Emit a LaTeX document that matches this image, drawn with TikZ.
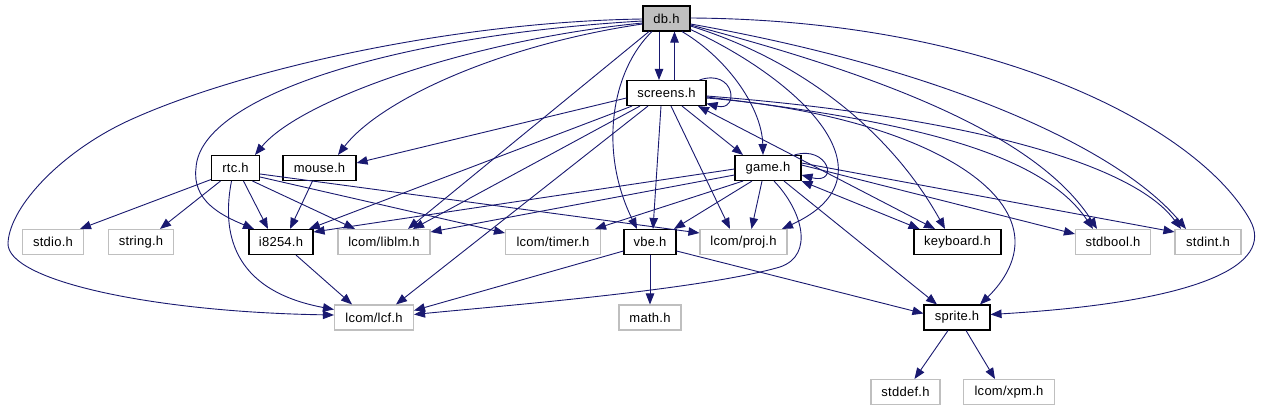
\documentclass[tikz,border=0pt]{standalone}
\usepackage{fontspec}
\setmainfont[LetterSpace=2]{Liberation Sans}
\usetikzlibrary{arrows.meta}
\definecolor{kante}{RGB}{25,25,112}
\definecolor{grau}{RGB}{191,191,191}

\begin{document}
\begin{tikzpicture}[x=1pt, y=1pt,
			>={Triangle[length=11pt,width=8.5pt]},   %Voreinstellung für Pfeilspitzen
			datei/.style={draw=black, line width=1.1pt, fill=white, minimum height=25pt, inner xsep=0pt, inner ysep=0pt, font=\fontsize{13}{15}\selectfont},
			sysdatei/.style={datei, draw=grau},
			wurzel/.style={datei, fill=grau},
			inc/.style={->, draw=kante, line width=0.9pt}]
			%Bildbereich
			\fill[white] (0,0) rectangle (1262,-411);
			\useasboundingbox (0,0) rectangle (1262,-411);
			% Knoten zeichnen
			\node[wurzel, minimum width=47pt] (db) at (666.5,-18.5) {db.h};
			\node[datei, minimum width=79pt] (screens) at (666.5,-93) {screens.h};
			\node[datei, minimum width=48pt] (rtc) at (235.5,-168) {rtc.h};
			\node[datei, minimum width=73pt] (mouse) at (319.5,-168) {mouse.h};
			\node[datei, minimum width=66pt] (game) at (768,-168) {game.h};
			\node[sysdatei, minimum width=61pt] (stdio) at (53,-242) {stdio.h};
			\node[sysdatei, minimum width=65pt] (string) at (141,-242) {string.h};
			\node[datei, minimum width=64pt] (i8254) at (281,-242) {i8254.h};
			\node[sysdatei, minimum width=92pt] (liblm) at (384,-242) {lcom/liblm.h};
			\node[sysdatei, minimum width=95pt] (timer) at (553,-242) {lcom/timer.h};
			\node[datei, minimum width=52pt] (vbe) at (650,-242) {vbe.h};
			\node[sysdatei, minimum width=87pt] (proj) at (743.5,-242) {lcom/proj.h};
			\node[datei, minimum width=87pt] (keyboard) at (957.5,-242) {keyboard.h};
			\node[sysdatei, minimum width=75pt] (stdbool) at (1113,-242) {stdbool.h};
			\node[sysdatei, minimum width=66pt] (stdint) at (1208,-242) {stdint.h};
			\node[sysdatei, minimum width=79pt] (lcf) at (374,-317.5) {lcom/lcf.h};
			\node[sysdatei, minimum width=62pt] (math) at (650,-317.5) {math.h};
			\node[datei, minimum width=66pt] (sprite) at (957,-317.5) {sprite.h};
			\node[sysdatei, minimum width=69pt] (stddef) at (905.5,-392) {stddef.h};
			\node[sysdatei, minimum width=91pt] (xpm) at (1009,-392) {lcom/xpm.h};
			% Kanten von db.h
			\draw[inc] ([xshift=-7.5]db.south) -- ([xshift=-7.5]screens.north);
			\draw[inc] ([xshift=8]screens.north) -- ([xshift=8]db.south);
			\draw[inc] ([yshift=-4.5]db.west) .. controls (470,-40) and (300,-100) .. ([xshift=19.5]rtc.north);
			\draw[inc] ([yshift=-5.5]db.west) .. controls (500,-45) and (380,-100) .. ([xshift=18.5]mouse.north);
			\draw[inc] ([yshift=-2.5]db.west) .. controls (400,-35) and (200,-95) .. (196,-168) .. controls (192,-200) and (220,-215) .. ([xshift=-27]i8254.north);
			\draw[inc] ([yshift=-0.5]db.west) .. controls (450,-22) and (240,-70) .. (130,-120) .. controls (64,-150) and (10,-205) .. (8,-243) .. controls (6,-280) and (150,-312) .. ([yshift=2.5]lcf.west);
			\draw[inc] ([xshift=-17.5]db.south) -- ([xshift=24]liblm.north);
			\draw[inc] ([xshift=-14.5]db.south) .. controls (612,-70) and (598,-150) .. ([xshift=-13]vbe.north);
			\draw[inc] ([xshift=15.5]db.south) .. controls (730,-60) and (762,-110) .. ([xshift=-5]game.north);
			\draw[inc] ([yshift=2]db.south east) .. controls (800,-80) and (900,-175) .. ([xshift=38.5]proj.north);
			\draw[inc] ([yshift=-7.5]db.east) .. controls (800,-60) and (890,-130) .. ([xshift=-12.5]keyboard.north);
			\draw[inc] ([yshift=-6.5]db.east) .. controls (900,-80) and (1040,-140) .. ([xshift=-16]stdbool.north);
			\draw[inc] ([yshift=-5.5]db.east) .. controls (950,-70) and (1120,-150) .. ([xshift=-22]stdint.north);
			\draw[inc] ([yshift=0.5]db.east) .. controls (1000,-20) and (1200,-130) .. (1250,-220) .. controls (1275,-265) and (1200,-302) .. ([yshift=3]sprite.east);
			% Kanten von screens.h
			\draw[inc] ([xshift=-7]screens.north east) .. controls (735,-68) and (740,-112) .. ([yshift=2.5]screens.south east);
			\draw[inc] ([yshift=-5]screens.west) -- ([yshift=5]mouse.east);
			\draw[inc] ([xshift=-34.5]screens.south) -- ([xshift=28]i8254.north);
			\draw[inc] ([xshift=-26.5]screens.south) -- ([xshift=29]liblm.north);
			\draw[inc] ([xshift=-18.5]screens.south) -- ([xshift=22]lcf.north);
			\draw[inc] ([xshift=-5.5]screens.south) -- ([xshift=3]vbe.north);
			\draw[inc] ([xshift=4.5]screens.south) -- ([xshift=-13.5]proj.north);
			\draw[inc] ([xshift=15.5]screens.south) -- ([xshift=-25]game.north);
			\draw[inc, <->] ([xshift=31.5]screens.south) -- ([xshift=-22.5]keyboard.north);
			\draw[inc] ([yshift=-4]screens.east) .. controls (900,-120) and (1040,-150) .. ([xshift=-20]stdbool.north);
			\draw[inc] ([yshift=-3]screens.east) .. controls (950,-115) and (1130,-160) .. ([xshift=-27]stdint.north);
			\draw[inc] ([yshift=-5]screens.east) .. controls (880,-112) and (1012,-170) .. (1015,-240) .. controls (1016,-268) and (995,-290) .. ([xshift=23]sprite.north);
			% Kanten von game.h
			\draw[inc] ([xshift=-7]game.north east) .. controls (828,-145) and (840,-185) .. ([yshift=-7]game.east);
			\draw[inc] ([yshift=-1]game.west) -- ([yshift=10]i8254.east);
			\draw[inc] ([yshift=-7]game.west) -- ([yshift=10]liblm.east);
			\draw[inc] ([xshift=-25]game.south) -- ([xshift=42]timer.north);
			\draw[inc] ([xshift=-16]game.south) -- ([xshift=24]vbe.north);
			\draw[inc] ([xshift=-6]game.south) -- ([xshift=8]proj.north);
			\draw[inc] ([xshift=6]game.south) .. controls (802,-210) and (815,-255) .. (780,-267) .. controls (700,-290) and (500,-306) .. ([yshift=3]lcf.east);
			\draw[inc] ([xshift=16]game.south) -- ([xshift=-20]sprite.north);
			\draw[inc, <->] (game.south east) -- ([xshift=-38]keyboard.north);
			\draw[inc] ([yshift=3]game.east) -- ([yshift=8]stdbool.west);
			\draw[inc] ([yshift=5]game.east) -- ([yshift=10]stdint.west);
			% Kanten von rtc.h
			\draw[inc] ([yshift=1.5]rtc.south west) -- ([xshift=27]stdio.north);
			\draw[inc] ([xshift=-15]rtc.south) -- ([xshift=19]string.north);
			\draw[inc] ([xshift=8]rtc.south) -- ([xshift=-13]i8254.north);
			\draw[inc] ([xshift=17]rtc.south) -- ([xshift=-29]liblm.north);
			\draw[inc] ([yshift=-9]rtc.east) -- ([yshift=9]timer.west);
			\draw[inc] ([yshift=-6]rtc.east) -- ([yshift=9]proj.west);
			\draw[inc] ([xshift=-4]rtc.south) .. controls (222,-230) and (230,-290) .. ([yshift=8]lcf.west);
			% restliche Kanten
			\draw[inc] ([xshift=-7]mouse.south) -- ([xshift=9]i8254.north);
			\draw[inc] ([xshift=15]i8254.south) -- ([xshift=-22]lcf.north);
			\draw[inc] ([yshift=-9]vbe.west) -- ([yshift=7]lcf.east);
			\draw[inc] (vbe.south) -- (math.north);
			\draw[inc] ([yshift=-9]vbe.east) -- ([yshift=4]sprite.west);
			\draw[inc] ([xshift=-9]sprite.south) -- ([xshift=9]stddef.north);
			\draw[inc] ([xshift=9]sprite.south) -- ([xshift=-14]xpm.north);
		\end{tikzpicture}
\end{document}
